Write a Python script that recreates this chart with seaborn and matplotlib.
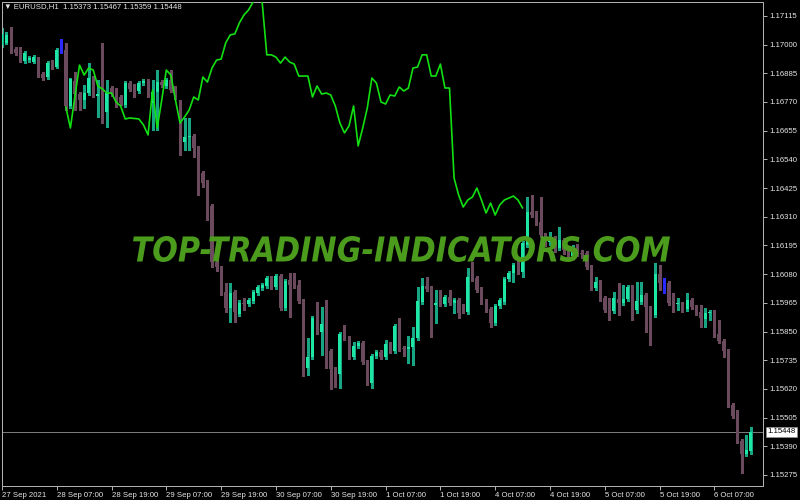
import numpy as np
import pandas as pd
import matplotlib
matplotlib.use("Agg")
import matplotlib.pyplot as plt
import seaborn as sns
from matplotlib.textpath import TextPath
from matplotlib.patches import PathPatch
from matplotlib.font_manager import FontProperties
from matplotlib.transforms import Affine2D, IdentityTransform

# ---------------- data (EURUSD H1) ----------------
opens = [
1.16999, 1.17007, 1.17039, 1.16983, 1.16975, 1.16934, 1.16938, 1.16930, 1.16946, 1.16882,
1.16870, 1.16926, 1.16910, 1.16979, 1.16979, 1.16754, 1.16854, 1.16802, 1.16778, 1.16806,
1.16866, 1.16794, 1.16810, 1.16730, 1.16826, 1.16818, 1.16790, 1.16758, 1.16846, 1.16834,
1.16814, 1.16846, 1.16854, 1.16766, 1.16810, 1.16850, 1.16834, 1.16858, 1.16826, 1.16770,
1.16610, 1.16630, 1.16634, 1.16586, 1.16485, 1.16449, 1.16353, 1.16129, 1.16105, 1.16008,
1.15944, 1.16008, 1.15920, 1.15964, 1.15960, 1.15972, 1.16004, 1.16024, 1.16032, 1.16064,
1.16028, 1.16073, 1.15944, 1.16056, 1.16036, 1.16036, 1.15972, 1.15704, 1.15748, 1.15904,
1.15848, 1.15880, 1.15772, 1.15700, 1.15680, 1.15840, 1.15824, 1.15748, 1.15792, 1.15804,
1.15728, 1.15644, 1.15752, 1.15768, 1.15748, 1.15800, 1.15772, 1.15868, 1.15784, 1.15780,
1.15788, 1.15824, 1.15968, 1.16032, 1.16024, 1.15956, 1.15968, 1.15960, 1.15988, 1.15964,
1.15976, 1.15952, 1.15928, 1.16069, 1.16064, 1.16020, 1.15972, 1.15940, 1.15884, 1.15952,
1.15968, 1.16060, 1.16085, 1.16125, 1.16089, 1.16197, 1.16329, 1.16325, 1.16289, 1.16237,
1.16209, 1.16225, 1.16185, 1.16217, 1.16177, 1.16153, 1.16185, 1.16165, 1.16165, 1.16109,
1.16024, 1.16048, 1.15984, 1.15944, 1.15932, 1.15980, 1.15964, 1.15980, 1.16028, 1.15936,
1.15968, 1.15996, 1.15944, 1.15916, 1.16081, 1.16044, 1.16044, 1.15968, 1.15960, 1.15960,
1.15940, 1.15976, 1.15948, 1.15928, 1.15900, 1.15924, 1.15928, 1.15840, 1.15812, 1.15772,
1.15555, 1.15511, 1.15411, 1.15359, 1.15373]

highs = [
1.17067, 1.17051, 1.17071, 1.16991, 1.16991, 1.16975, 1.16954, 1.16959, 1.16950, 1.16890,
1.16934, 1.16938, 1.16987, 1.17023, 1.17007, 1.16866, 1.16890, 1.16810, 1.16838, 1.16926,
1.16874, 1.16858, 1.17007, 1.16858, 1.16834, 1.16826, 1.16798, 1.16854, 1.16854, 1.16842,
1.16854, 1.16862, 1.16862, 1.16858, 1.16898, 1.16858, 1.16866, 1.16898, 1.16834, 1.16778,
1.16706, 1.16706, 1.16642, 1.16594, 1.16493, 1.16457, 1.16361, 1.16185, 1.16113, 1.16044,
1.16044, 1.16016, 1.15976, 1.15984, 1.15984, 1.16016, 1.16036, 1.16044, 1.16073, 1.16073,
1.16081, 1.16081, 1.16060, 1.16085, 1.16085, 1.16056, 1.15980, 1.15824, 1.15912, 1.15968,
1.15948, 1.15976, 1.15780, 1.15708, 1.15848, 1.15876, 1.15832, 1.15808, 1.15812, 1.15812,
1.15736, 1.15760, 1.15776, 1.15776, 1.15816, 1.15808, 1.15880, 1.15904, 1.15792, 1.15832,
1.15868, 1.16028, 1.16064, 1.16069, 1.16032, 1.16016, 1.16016, 1.15996, 1.16016, 1.15984,
1.15984, 1.15960, 1.16105, 1.16129, 1.16073, 1.16028, 1.15980, 1.15948, 1.15960, 1.15984,
1.16069, 1.16093, 1.16125, 1.16133, 1.16213, 1.16389, 1.16397, 1.16333, 1.16389, 1.16245,
1.16249, 1.16233, 1.16269, 1.16225, 1.16193, 1.16197, 1.16201, 1.16177, 1.16173, 1.16117,
1.16069, 1.16056, 1.15992, 1.15984, 1.16008, 1.16044, 1.16036, 1.16036, 1.16036, 1.16048,
1.16048, 1.16004, 1.15952, 1.16125, 1.16117, 1.16064, 1.16052, 1.16004, 1.15984, 1.15968,
1.16004, 1.15984, 1.15956, 1.15956, 1.15944, 1.15936, 1.15936, 1.15896, 1.15820, 1.15780,
1.15563, 1.15535, 1.15419, 1.15435, 1.15467]

lows = [
1.16991, 1.17003, 1.16967, 1.16959, 1.16930, 1.16926, 1.16930, 1.16926, 1.16870, 1.16858,
1.16862, 1.16902, 1.16906, 1.16967, 1.16738, 1.16746, 1.16738, 1.16738, 1.16746, 1.16798,
1.16790, 1.16710, 1.16686, 1.16670, 1.16794, 1.16750, 1.16758, 1.16750, 1.16814, 1.16790,
1.16806, 1.16838, 1.16790, 1.16658, 1.16658, 1.16830, 1.16826, 1.16810, 1.16782, 1.16558,
1.16578, 1.16578, 1.16550, 1.16397, 1.16429, 1.16297, 1.16109, 1.16093, 1.15996, 1.15928,
1.15888, 1.15888, 1.15912, 1.15936, 1.15952, 1.15964, 1.15996, 1.16016, 1.16024, 1.16020,
1.16020, 1.15936, 1.15936, 1.15908, 1.16024, 1.15964, 1.15672, 1.15676, 1.15740, 1.15840,
1.15756, 1.15704, 1.15619, 1.15628, 1.15624, 1.15816, 1.15740, 1.15740, 1.15784, 1.15720,
1.15636, 1.15624, 1.15744, 1.15740, 1.15740, 1.15764, 1.15764, 1.15772, 1.15752, 1.15724,
1.15716, 1.15816, 1.15960, 1.16012, 1.15828, 1.15884, 1.15952, 1.15952, 1.15956, 1.15924,
1.15904, 1.15924, 1.15920, 1.16052, 1.16008, 1.15960, 1.15928, 1.15868, 1.15876, 1.15944,
1.15960, 1.16052, 1.16048, 1.16081, 1.16069, 1.16189, 1.16309, 1.16277, 1.16229, 1.16193,
1.16197, 1.16169, 1.16177, 1.16161, 1.16145, 1.16141, 1.16153, 1.16145, 1.16101, 1.16016,
1.16016, 1.15972, 1.15928, 1.15896, 1.15924, 1.15916, 1.15956, 1.15972, 1.15896, 1.15924,
1.15960, 1.15848, 1.15796, 1.15908, 1.16016, 1.16004, 1.15956, 1.15928, 1.15936, 1.15928,
1.15932, 1.15940, 1.15916, 1.15868, 1.15868, 1.15896, 1.15828, 1.15804, 1.15748, 1.15547,
1.15503, 1.15403, 1.15283, 1.15351, 1.15359]

closes = [
1.17043, 1.17039, 1.16983, 1.16967, 1.16938, 1.16967, 1.16946, 1.16950, 1.16878, 1.16866,
1.16926, 1.16910, 1.16979, 1.16979, 1.16754, 1.16862, 1.16802, 1.16778, 1.16806, 1.16866,
1.16798, 1.16802, 1.16730, 1.16806, 1.16802, 1.16758, 1.16766, 1.16846, 1.16822, 1.16826,
1.16846, 1.16854, 1.16798, 1.16810, 1.16850, 1.16838, 1.16858, 1.16818, 1.16790, 1.16610,
1.16630, 1.16634, 1.16586, 1.16485, 1.16445, 1.16349, 1.16129, 1.16109, 1.16004, 1.15944,
1.16004, 1.15928, 1.15964, 1.15960, 1.15976, 1.16008, 1.16028, 1.16036, 1.16064, 1.16028,
1.16073, 1.15944, 1.16052, 1.16036, 1.16032, 1.15972, 1.15704, 1.15748, 1.15904, 1.15848,
1.15880, 1.15772, 1.15700, 1.15680, 1.15840, 1.15824, 1.15748, 1.15792, 1.15804, 1.15728,
1.15644, 1.15752, 1.15768, 1.15748, 1.15800, 1.15772, 1.15872, 1.15780, 1.15780, 1.15788,
1.15824, 1.15972, 1.16032, 1.16020, 1.15956, 1.15964, 1.15960, 1.15988, 1.15964, 1.15976,
1.15924, 1.15932, 1.16069, 1.16060, 1.16016, 1.15968, 1.15936, 1.15884, 1.15952, 1.15976,
1.16060, 1.16085, 1.16117, 1.16089, 1.16205, 1.16329, 1.16317, 1.16285, 1.16237, 1.16209,
1.16225, 1.16185, 1.16217, 1.16177, 1.16157, 1.16185, 1.16165, 1.16161, 1.16109, 1.16024,
1.16048, 1.15980, 1.15936, 1.15932, 1.15984, 1.15964, 1.15980, 1.16028, 1.15936, 1.15972,
1.15996, 1.15948, 1.15916, 1.16081, 1.16044, 1.16044, 1.15964, 1.15960, 1.15964, 1.15936,
1.15976, 1.15948, 1.15924, 1.15904, 1.15924, 1.15928, 1.15844, 1.15812, 1.15772, 1.15555,
1.15511, 1.15411, 1.15359, 1.15375, 1.15448]

# green indicator line, starting at bar 14
line_first_bar = 14
line_values = [
1.16750, 1.16666, 1.16794, 1.16918, 1.16878, 1.16906, 1.16898, 1.16834, 1.16822, 1.16806,
1.16806, 1.16770, 1.16754, 1.16702, 1.16706, 1.16704, 1.16702, 1.16678, 1.16638, 1.16818,
1.16666, 1.16778, 1.16898, 1.16878, 1.16778, 1.16686, 1.16710, 1.16738, 1.16790, 1.16778,
1.16870, 1.16850, 1.16906, 1.16938, 1.16942, 1.17007, 1.17039, 1.17043, 1.17087, 1.17119,
1.17139, 1.17171, 1.17203, 1.17167, 1.16959, 1.16959, 1.16950, 1.16926, 1.16950, 1.16930,
1.16922, 1.16874, 1.16874, 1.16874, 1.16790, 1.16834, 1.16802, 1.16806, 1.16798, 1.16754,
1.16686, 1.16646, 1.16674, 1.16754, 1.16594, 1.16666, 1.16746, 1.16866, 1.16846, 1.16770,
1.16762, 1.16798, 1.16794, 1.16830, 1.16814, 1.16826, 1.16906, 1.16910, 1.16959, 1.16959,
1.16874, 1.16874, 1.16922, 1.16826, 1.16826, 1.16465, 1.16397, 1.16349, 1.16377, 1.16389,
1.16425, 1.16377, 1.16325, 1.16365, 1.16317, 1.16357, 1.16377, 1.16385, 1.16393, 1.16377,
1.16345]

x_tick_bars = [0, 12, 24, 36, 48, 60, 72, 84, 96, 108, 120, 132, 144, 156]
x_tick_labels = ["27 Sep 2021", "28 Sep 07:00", "28 Sep 19:00", "29 Sep 07:00",
                 "29 Sep 19:00", "30 Sep 07:00", "30 Sep 19:00", "1 Oct 07:00",
                 "1 Oct 19:00", "4 Oct 07:00", "4 Oct 19:00", "5 Oct 07:00",
                 "5 Oct 19:00", "6 Oct 07:00"]
y_tick_values = [1.17115, 1.17000, 1.16885, 1.16770, 1.16655, 1.16540, 1.16425,
                 1.16310, 1.16195, 1.16080, 1.15965, 1.15850, 1.15735, 1.15620,
                 1.15505, 1.15390, 1.15275]
header = "\u25bc EURUSD,H1  1.15373 1.15467 1.15359 1.15448"
current_price = 1.15448
watermark = "TOP-TRADING-INDICATORS.COM"

# ---------------- style ----------------
sns.set_theme(style="dark", rc={"axes.facecolor": "black", "figure.facecolor": "black",
                                "savefig.facecolor": "black"})
plt.rcParams["font.family"] = ["Liberation Sans", "DejaVu Sans"]

BULL_BODY = "#1ee6a5"
BULL_WICK = "#17a583"
BEAR = "#6c4a5e"
DOJI = "#2a2aff"
FRAME = "#b0b0b0"
TEXT = "#e6e6e6"

fig = plt.figure(figsize=(8, 5), dpi=100)
ax = fig.add_axes([1.7 / 800, 14.3 / 500, 761.6 / 800, 484 / 500])
ax.set_facecolor("black")

df = pd.DataFrame({"bar": np.arange(len(opens)), "open": opens, "high": highs,
                   "low": lows, "close": closes})
df["kind"] = np.where(df["close"] > df["open"], "bull",
                      np.where(df["close"] < df["open"], "bear", "doji"))
wick_map = {"bull": BULL_WICK, "bear": BEAR, "doji": DOJI}
body_map = {"bull": BULL_BODY, "bear": BEAR, "doji": DOJI}

ymin, ymax = 1.15232, 1.17172
px = (ymax - ymin) / 484.0

# current price line
ax.axhline(current_price, color="#7a7a7a", lw=0.72, zorder=1)

# wicks
ax.vlines(df["bar"], df["low"], df["high"], colors=df["kind"].map(wick_map),
          linewidth=0.8, antialiased=False, zorder=2)
# bodies
bottom = np.minimum(df["open"], df["close"])
height = np.maximum(np.abs(df["close"] - df["open"]), px * 1.0)
ax.bar(df["bar"], height, bottom=bottom, width=0.66,
       color=df["kind"].map(body_map), linewidth=0, antialiased=False, zorder=3)

# indicator line
ldf = pd.DataFrame({"bar": np.arange(line_first_bar, line_first_bar + len(line_values)),
                    "value": line_values})
sns.lineplot(data=ldf, x="bar", y="value", color="#12e012", linewidth=1.2,
             ax=ax, legend=False, zorder=4)

ax.set_xlim(-0.04, 166.7)
ax.set_ylim(ymin, ymax)

# axes / ticks
ax.set_xlabel("")
ax.set_ylabel("")
ax.set_xticks(x_tick_bars)
ax.set_xticklabels(x_tick_labels)
ax.yaxis.tick_right()
ax.set_yticks(y_tick_values)
ax.set_yticklabels([f"{v:.5f}" for v in y_tick_values])
ax.tick_params(axis="both", which="major", length=3, width=0.72, color=FRAME,
               labelcolor=TEXT, labelsize=5.6, pad=1.5,
               bottom=True, right=True, left=False, top=False)
for lbl in ax.get_xticklabels():
    lbl.set_horizontalalignment("left")
for sp in ax.spines.values():
    sp.set_visible(True)
    sp.set_color(FRAME)
    sp.set_linewidth(0.72)
ax.grid(False)

# header text
fig.text(4 / 800, 1 - 6.7 / 500, header, ha="left", va="center", fontsize=5.6,
         color=TEXT)

# current price label
ax.annotate(f"{current_price:.5f}", xy=(1.0, current_price),
            xycoords=("axes fraction", "data"), xytext=(3.2, 0),
            textcoords="offset points", ha="left", va="center", fontsize=5.6,
            color="black", annotation_clip=False,
            bbox=dict(boxstyle="square,pad=0.18", fc="white", ec="#909090", lw=0.5))

# watermark (pixel box x 133..670, y 238..264 from bottom)
tp = TextPath((0, 0), watermark, size=40,
              prop=FontProperties(family="DejaVu Sans", weight="bold", style="oblique"))
ext = tp.get_extents()
tr = (Affine2D().translate(-ext.x0, -ext.y0)
      .scale(537.0 / ext.width, 26.0 / ext.height).translate(133, 238))
wm = PathPatch(tr.transform_path(tp), transform=IdentityTransform(),
               facecolor="#4b9b1c", edgecolor="none", zorder=10)
fig.add_artist(wm)

fig.savefig("out.png", dpi=100, facecolor="black")
